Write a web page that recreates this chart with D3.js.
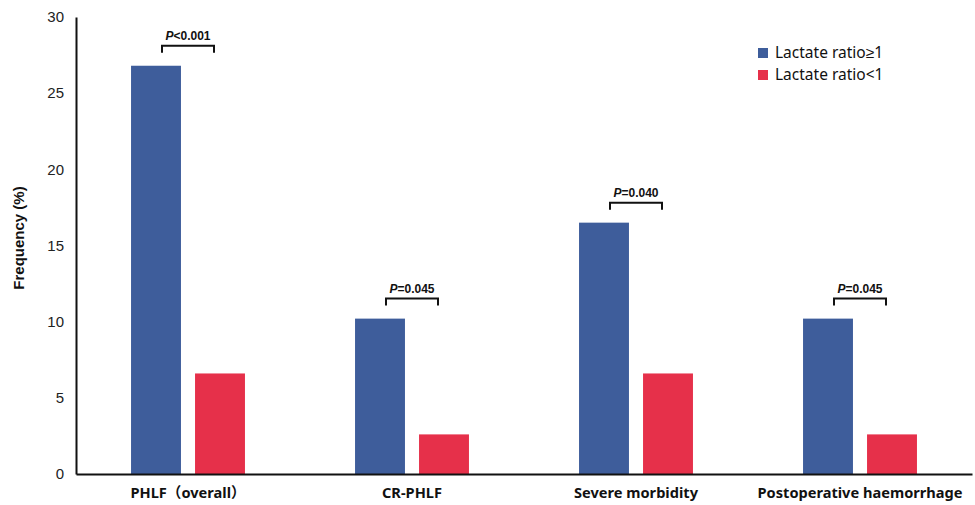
<!DOCTYPE html>
<html>
<head>
<meta charset="utf-8">
<script src="https://cdn.jsdelivr.net/npm/d3@7"></script>
<style>
  body { margin: 0; background: #fff; }
  svg { display: block; }
</style>
</head>
<body>
<div id="chart"></div>
<script>
// dados
const categorias = ["PHLF（overall）", "CR-PHLF", "Severe morbidity", "Postoperative haemorrhage"];
const series = ["Lactate ratio≥1", "Lactate ratio<1"];
const valores_alto = [26.8, 10.2, 16.5, 10.2];
const valores_baixo = [6.6, 2.6, 6.6, 2.6];
const p_valores = ["<0.001", "=0.045", "=0.040", "=0.045"];
const ticks_y = [0, 5, 10, 15, 20, 25, 30];

const cores = ["#3e5d9b", "#e6304a"];
const largura = 975, altura = 505;
const margem = {top: 17, right: 3, bottom: 31, left: 76};

const svg = d3.select("#chart").append("svg")
    .attr("width", largura)
    .attr("height", altura);

const x = d3.scaleBand()
    .domain(categorias)
    .range([margem.left, largura - margem.right]);

const x1 = d3.scaleBand()
    .domain(series)
    .range([0, x.bandwidth()])
    .paddingInner(0.22)
    .paddingOuter(0.86);

const y = d3.scaleLinear()
    .domain([0, 30])
    .range([altura - margem.bottom, margem.top]);

const dados = categorias.map((c, i) => ({
  cat: c,
  vals: [valores_alto[i], valores_baixo[i]],
  p: p_valores[i]
}));

// barras
const grupo = svg.append("g")
  .selectAll("g")
  .data(dados)
  .join("g")
    .attr("transform", d => `translate(${x(d.cat)},0)`);

grupo.selectAll("rect")
  .data(d => d.vals.map((v, j) => ({serie: series[j], v, j})))
  .join("rect")
    .attr("x", d => x1(d.serie))
    .attr("y", d => y(d.v))
    .attr("width", x1.bandwidth())
    .attr("height", d => y(0) - y(d.v))
    .attr("fill", d => cores[d.j]);

// colchetes com valor de P
grupo.each(function(d) {
  const g = d3.select(this);
  const cx = x.bandwidth() / 2;
  const topo = y(d3.max(d.vals)) - 20;
  g.append("path")
    .attr("d", `M${cx - 26},${topo + 7}V${topo}H${cx + 26}V${topo + 7}`)
    .attr("fill", "none")
    .attr("stroke", "#111")
    .attr("stroke-width", 2);
  const t = g.append("text")
    .attr("x", cx)
    .attr("y", topo - 6)
    .attr("text-anchor", "middle")
    .attr("font-family", "Liberation Sans, Arial, sans-serif")
    .attr("font-size", 12)
    .attr("font-weight", "bold")
    .attr("fill", "#111");
  t.append("tspan").attr("font-style", "italic").text("P");
  t.append("tspan").text(d.p);
});

// eixo y
const eixoY = svg.append("g")
    .attr("transform", `translate(${margem.left},0)`)
    .call(d3.axisLeft(y).tickValues(ticks_y).tickSize(0).tickPadding(12));
eixoY.select(".domain").attr("stroke", "#111").attr("stroke-width", 2);
eixoY.selectAll("text")
    .attr("font-family", "Liberation Sans, Arial, sans-serif")
    .attr("font-size", 15)
    .attr("fill", "#222");

// eixo x
const eixoX = svg.append("g")
    .attr("transform", `translate(0,${y(0)})`)
    .call(d3.axisBottom(x).tickSize(0).tickPadding(14));
eixoX.select(".domain").attr("stroke", "#111").attr("stroke-width", 2);
eixoX.selectAll("text")
    .attr("font-family", "Noto Sans, Noto Sans CJK SC, sans-serif")
    .attr("font-size", 14.6)
    .attr("font-weight", "bold")
    .attr("fill", "#111");

// título do eixo y
svg.append("text")
    .attr("transform", "translate(24,238) rotate(-90)")
    .attr("text-anchor", "middle")
    .attr("font-family", "Liberation Sans, Arial, sans-serif")
    .attr("font-size", 15)
    .attr("font-weight", "bold")
    .attr("fill", "#111")
    .text("Frequency (%)");

// legenda
const legenda = svg.append("g")
    .attr("transform", "translate(758,48)")
  .selectAll("g")
  .data(series)
  .join("g")
    .attr("transform", (d, i) => `translate(0,${i * 22})`);
legenda.append("rect")
    .attr("width", 10)
    .attr("height", 10)
    .attr("fill", (d, i) => cores[i]);
legenda.append("text")
    .attr("x", 17)
    .attr("y", 5)
    .attr("dy", "0.35em")
    .attr("font-family", "Noto Sans, sans-serif")
    .attr("font-size", 15.5)
    .attr("fill", "#111")
    .text(d => d);
</script>
</body>
</html>
